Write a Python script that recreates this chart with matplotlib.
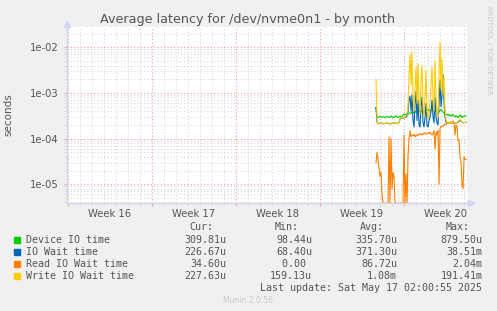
import numpy as np
import matplotlib
matplotlib.use('Agg')
import matplotlib.pyplot as plt
from matplotlib.ticker import LogLocator, FixedLocator, NullFormatter

# ---- data (microseconds, one sample every 2 hours) ----
series_names = ['Device IO time', 'IO Wait time', 'Read IO Wait time', 'Write IO Wait time']
series_colors = ['#00CC00', '#0066B3', '#FF8000', '#FFCC00']

device_us = [480, 290, 300, 295, 310, 300, 290, 305, 300, 285, 295, 310, 300, 290, 300, 315,
             300, 285, 295, 305, 320, 300, 290, 300, 310, 295, 305, 330, 340, 330, 345, 355,
             340, 360, 370, 355, 380, 370, 390, 375, 400, 380, 410, 390, 420, 400, 380, 410,
             430, 400, 390, 420, 440, 410, 400, 430, 450, 420, 400, 390, 410, 430, 400, 380,
             420, 440, 410, 380, 360, 350, 340, 330, 345, 320, 335, 310, 325, 340, 310, 300,
             320, 305, 290, 310, 330, 300, 315, 295, 310, 320, 310]

iowait_us = [480, 230, 215, 212, 218, 222, 214, 210, 218, 214, 216, 222, 214, 218, 210, 214,
             218, 214, 222, 226, 218, 214, 218, 228, 270, 280, 285, 280, 285, 290, 300, 320,
             400, 700, 850, 400, 900, 250, 180, 600, 1100, 250, 700, 200, 180, 500, 800, 220,
             180, 300, 600, 190, 180, 250, 300, 400, 700, 300, 220, 800, 300, 220, 200, 600,
             1900, 500, 900, 2500, 600, 300, 230, 220, 222, 218, 220, 224, 218, 220, 222, 218,
             220, 224, 230, 240, 250, 245, 230, 222, 225, 226, 227]

read_us = [30, 50, 35, 22, 15, 18, 6, 0, 0, 0, 0, 0, 0, 110, 0, 100,
           8, 18, 15, 0, 0, 0, 0, 0, 0, 0, 0, 0, 120, 0, 17, 0,
           40, 100, 150, 110, 120, 115, 125, 110, 120, 115, 125, 120, 130, 125, 120, 130,
           125, 135, 130, 125, 135, 130, 140, 125, 120, 130, 150, 60, 140, 120, 150, 10,
           170, 180, 190, 185, 200, 210, 205, 220, 215, 230, 220, 235, 225, 240, 230, 120,
           200, 180, 90, 95, 40, 30, 10, 8, 40, 35, 35]

write_us = [1950, 240, 215, 212, 218, 222, 214, 210, 218, 214, 216, 222, 214, 218, 210, 214,
            218, 214, 222, 226, 218, 214, 218, 228, 275, 285, 290, 282, 288, 300, 320, 350,
            500, 2500, 7000, 1500, 8000, 900, 400, 1200, 3700, 600, 4400, 700, 350, 2000, 4000, 500,
            300, 900, 3100, 400, 280, 350, 600, 1500, 3700, 800, 400, 5000, 900, 350, 300, 2500,
            13000, 1200, 5600, 900, 2200, 400, 260, 225, 222, 218, 220, 224, 218, 220, 222, 218,
            220, 226, 240, 255, 262, 250, 232, 222, 225, 226, 228]

# legend table
col_heads = ['Cur:', 'Min:', 'Avg:', 'Max:']
legend_vals = [['309.81u', '98.44u', '335.70u', '879.50u'],
               ['226.67u', '68.40u', '371.30u', '38.51m'],
               ['34.60u', '0.00 ', '86.72u', '2.04m'],
               ['227.63u', '159.13u', '1.08m', '191.41m']]

week_labels = ['Week 16', 'Week 17', 'Week 18', 'Week 19', 'Week 20']
week_starts = [0, 7, 14, 21, 28]          # days
first_sample_day = 25.67
sample_step_days = 2 / 24

# ---- figure ----
W, H = 497, 311
fig = plt.figure(figsize=(W / 100, H / 100), dpi=100, facecolor='#F0F0F0')
ax = fig.add_axes([67 / W, 1 - 203.3 / H, 400 / W, 176.6 / H])
ax.set_facecolor('white')

ylo, yhi = 3.84e-6, 2.83e-2
ax.set_yscale('log')
ax.set_ylim(ylo, yhi)
ax.set_xlim(-0.08, 33.25)

t = first_sample_day + np.arange(len(device_us)) * sample_step_days
for vals, col in zip([device_us, iowait_us, read_us, write_us], series_colors):
    v = np.array(vals, dtype=float) * 1e-6
    v = np.maximum(v, ylo)   # zeros sit on the bottom edge like rrdtool does
    ax.plot(t, v, color=col, lw=0.8, zorder=3)

# grid
ax.yaxis.set_major_locator(LogLocator(base=10, numticks=10))
ax.yaxis.set_minor_locator(LogLocator(base=10, subs=np.arange(2, 10), numticks=20))
ax.yaxis.set_minor_formatter(NullFormatter())
ax.set_yticks([1e-5, 1e-4, 1e-3, 1e-2])
ax.set_yticklabels(['1e-05', '1e-04', '1e-03', '1e-02'])
ax.xaxis.set_major_locator(FixedLocator(week_starts))
ax.xaxis.set_minor_locator(FixedLocator(np.arange(0, 34, 1)))
ax.set_xticklabels([])
for w, lab in zip(week_starts, week_labels):
    ax.text(w + 3.5, -0.03, lab, transform=ax.get_xaxis_transform(), ha='center', va='top',
            fontsize=7.2, color='#555555')

ax.grid(which='minor', color='#D8D8D8', ls=(0, (1, 2)), lw=0.8, zorder=1)
ax.grid(which='major', color='#F0A0A0', ls=(0, (1, 2)), lw=0.8, zorder=1)
ax.tick_params(which='major', length=2, color='#F0A0A0', labelsize=7.2, labelcolor='#555555', pad=4)
ax.tick_params(which='minor', length=2, color='#D8D8D8')

for s in ['top', 'right']:
    ax.spines[s].set_visible(False)
for s in ['left', 'bottom']:
    ax.spines[s].set_color('#CFD6F8')
    ax.spines[s].set_linewidth(1)

# axis arrows
ax.plot([0], [1.015], marker='^', ms=5, color='#CFD6F8', transform=ax.transAxes, clip_on=False)
ax.plot([1.01], [0], marker='>', ms=5, color='#CFD6F8', transform=ax.transAxes, clip_on=False)

ax.set_ylabel('seconds', fontsize=7.5, color='#555555', labelpad=12)

fig.text(248 / W, 1 - 19 / H, 'Average latency for /dev/nvme0n1 - by month', ha='center', va='center',
         fontsize=9.2, color='#555555')
fig.text(489 / W, 1 - 6 / H, 'RRDTOOL / TOBI OETIKER', rotation=270, ha='center', va='top',
         fontsize=5, color='#C8C8C8')

# legend block
mono = 'DejaVu Sans Mono'
fs = 7.2
head_right = [213, 299, 384, 470]
val_right = [226, 312, 397, 482.5]
for hr, h in zip(head_right, col_heads):
    fig.text(hr / W, 1 - 227.5 / H, h, ha='right', va='center', family=mono, fontsize=fs, color='#555555')
rows_y = [240, 252, 263.8, 275.7]
for ry, name, col, vals in zip(rows_y, series_names, series_colors, legend_vals):
    fig.patches.append(plt.Rectangle((14 / W, 1 - (ry + 3) / H), 6 / W, 6 / H, color=col,
                                     transform=fig.transFigure, figure=fig))
    fig.text(26 / W, 1 - ry / H, name, ha='left', va='center', family=mono, fontsize=fs, color='#555555')
    for vr, v in zip(val_right, vals):
        fig.text(vr / W, 1 - ry / H, v, ha='right', va='center', family=mono, fontsize=fs, color='#555555')
fig.text(482.5 / W, 1 - 287.7 / H, 'Last update: Sat May 17 02:00:55 2025', ha='right', va='center',
         family=mono, fontsize=fs, color='#555555')
fig.text(248 / W, 1 - 300.5 / H, 'Munin 2.0.56', ha='center', va='center', fontsize=5.5, color='#C8C8C8')

fig.savefig('out.png', dpi=100, facecolor=fig.get_facecolor())
